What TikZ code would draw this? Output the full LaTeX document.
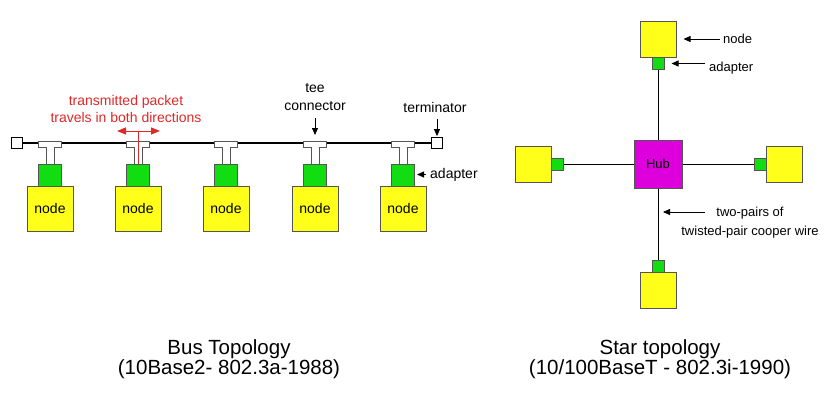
\documentclass[tikz,border=0pt]{standalone}
\usepackage{fontspec}
\setmainfont{Liberation Sans}
\usepackage{xcolor}
\usepackage{tikz}
\usetikzlibrary{arrows.meta}

\definecolor{nodeyellow}{HTML}{FFFF1A}
\definecolor{adaptgreen}{HTML}{11DD11}
\definecolor{hubmagenta}{HTML}{DD00DD}
\definecolor{edgegray}{HTML}{555555}
\definecolor{pktred}{HTML}{E02828}

\begin{document}
\begin{tikzpicture}[x=1pt, y=-1pt,
    every node/.style={inner sep=0pt, font=\fontsize{14}{18}\selectfont},
    station/.style={draw=edgegray, line width=1pt, fill=nodeyellow, minimum width=46pt, minimum height=45pt},
    adapter/.style={draw=edgegray, line width=1pt, fill=adaptgreen, minimum width=23pt, minimum height=22pt},
    host/.style={draw=edgegray, line width=1pt, fill=nodeyellow, minimum size=36pt},
    plug/.style={draw=edgegray, line width=1pt, fill=adaptgreen, minimum size=12pt},
    hub/.style={draw=edgegray, line width=1pt, fill=hubmagenta, minimum size=48pt, font=\fontsize{13}{15}\selectfont},
    term/.style={draw=black, fill=white, line width=0.8pt, minimum size=11pt},
    tee/.style={draw=edgegray, fill=white, line width=1pt},
    pointer/.style={-{Triangle[length=7pt,width=6pt]}, line width=0.8pt},
    redtip/.style={pktred, line width=1pt, -{Triangle[length=9pt,width=7pt]}},
    caption/.style={align=center, font=\fontsize{20.5}{16.5}\selectfont}]

    \useasboundingbox (0,0) rectangle (828,405);

    % bus topology
    \node[term] (termL) at (17,143) {};
    \node[term] (termR) at (437,143) {};
    \draw[line width=1.5pt] (termL) -- (termR);

    \coordinate (tee1) at (50,141);
    \coordinate (tee2) at (138,141);
    \coordinate (tee3) at (226,141);
    \coordinate (tee4) at (315,141);
    \coordinate (tee5) at (403,141);

    \draw[tee] (tee1) ++(-4,23) -- ++(0,-17) -- ++(-7.5,0) -- ++(0,-6) -- ++(23,0) -- ++(0,6) -- ++(-7.5,0) -- ++(0,17);
    \draw[tee] (tee2) ++(-4,23) -- ++(0,-17) -- ++(-7.5,0) -- ++(0,-6) -- ++(23,0) -- ++(0,6) -- ++(-7.5,0) -- ++(0,17);
    \draw[tee] (tee3) ++(-4,23) -- ++(0,-17) -- ++(-7.5,0) -- ++(0,-6) -- ++(23,0) -- ++(0,6) -- ++(-7.5,0) -- ++(0,17);
    \draw[tee] (tee4) ++(-4,23) -- ++(0,-17) -- ++(-7.5,0) -- ++(0,-6) -- ++(23,0) -- ++(0,6) -- ++(-7.5,0) -- ++(0,17);
    \draw[tee] (tee5) ++(-4,23) -- ++(0,-17) -- ++(-7.5,0) -- ++(0,-6) -- ++(23,0) -- ++(0,6) -- ++(-7.5,0) -- ++(0,17);

    \node[adapter] (ad1) at (50,175) {};
    \node[adapter] (ad2) at (138,175) {};
    \node[adapter] (ad3) at (226,175) {};
    \node[adapter] (ad4) at (315,175) {};
    \node[adapter] (ad5) at (403,175) {};

    \node[station] (st1) at (50,208.5) {node};
    \node[station] (st2) at (138,208.5) {node};
    \node[station] (st3) at (226,208.5) {node};
    \node[station] (st4) at (315,208.5) {node};
    \node[station] (st5) at (403,208.5) {node};

    % packet
    \coordinate (pkt) at (138,131);
    \draw[pktred, line width=1pt] (pkt) -- (ad2.north);
    \draw[redtip] (pkt) -- ++(-21,0);
    \draw[redtip] (pkt) -- ++(22,0);
    \node[text=pktred, align=center, font=\fontsize{14}{17.5}\selectfont] (pktlbl) at (126,109) {transmitted packet\\travels in both directions};

    \node[align=center] (teelbl) at (315,97.5) {tee\\connector};
    \draw[pointer, shorten <=7pt, shorten >=6pt] (teelbl.south) -- (tee4);
    \node (termlbl) at (435,107) {terminator};
    \draw[pointer, shorten <=7pt, shorten >=1pt] (termlbl.south -| termR) -- (termR.north);
    \node[anchor=west] (adlbl) at (430,174.5) {adapter};
    \draw[pointer, shorten <=4pt, shorten >=2pt] (adlbl.west) -- (adlbl.west -| ad5.east);

    \node[caption] (buscap) at (229,359.5) {Bus Topology\\(10Base2- 802.3a-1988)};

    % star topology
    \node[hub] (hub) at (658,164) {Hub};
    \node[host] (hostN) at (658,39) {};
    \node[plug] (plugN) at (658,63.5) {};
    \node[host] (hostW) at (533,164.5) {};
    \node[plug] (plugW) at (557,164) {};
    \node[host] (hostE) at (784,164.5) {};
    \node[plug] (plugE) at (760,164) {};
    \node[host] (hostS) at (658,290) {};
    \node[plug] (plugS) at (658,266) {};

    \draw[line width=1pt] (plugN) -- (hub);
    \draw[line width=1pt] (plugW) -- (hub);
    \draw[line width=1pt] (hub) -- (plugE);
    \draw[line width=1pt] (hub) -- (plugS);

    \node[anchor=west, font=\fontsize{13}{16}\selectfont] (hostlbl) at (723,39) {node};
    \draw[pointer, shorten <=3pt, shorten >=7pt] (hostlbl.west |- hostN) -- (hostN.east);
    \node[anchor=west, font=\fontsize{13}{16}\selectfont] (pluglbl) at (709,68) {adapter};
    \draw[pointer, shorten <=4pt, shorten >=7pt] (pluglbl.west |- plugN) -- (plugN.east);

    \coordinate (wire) at (658,212);
    \coordinate (wiretail) at (705,212);
    \draw[pointer, shorten >=5pt] (wiretail) -- (wire);
    \node[align=center, font=\fontsize{13}{19}\selectfont] (wirelbl) at (750,223) {two-pairs of\\twisted-pair cooper wire};

    \node[caption] (starcap) at (660,359.5) {Star topology\\(10/100BaseT - 802.3i-1990)};
\end{tikzpicture}
\end{document}
